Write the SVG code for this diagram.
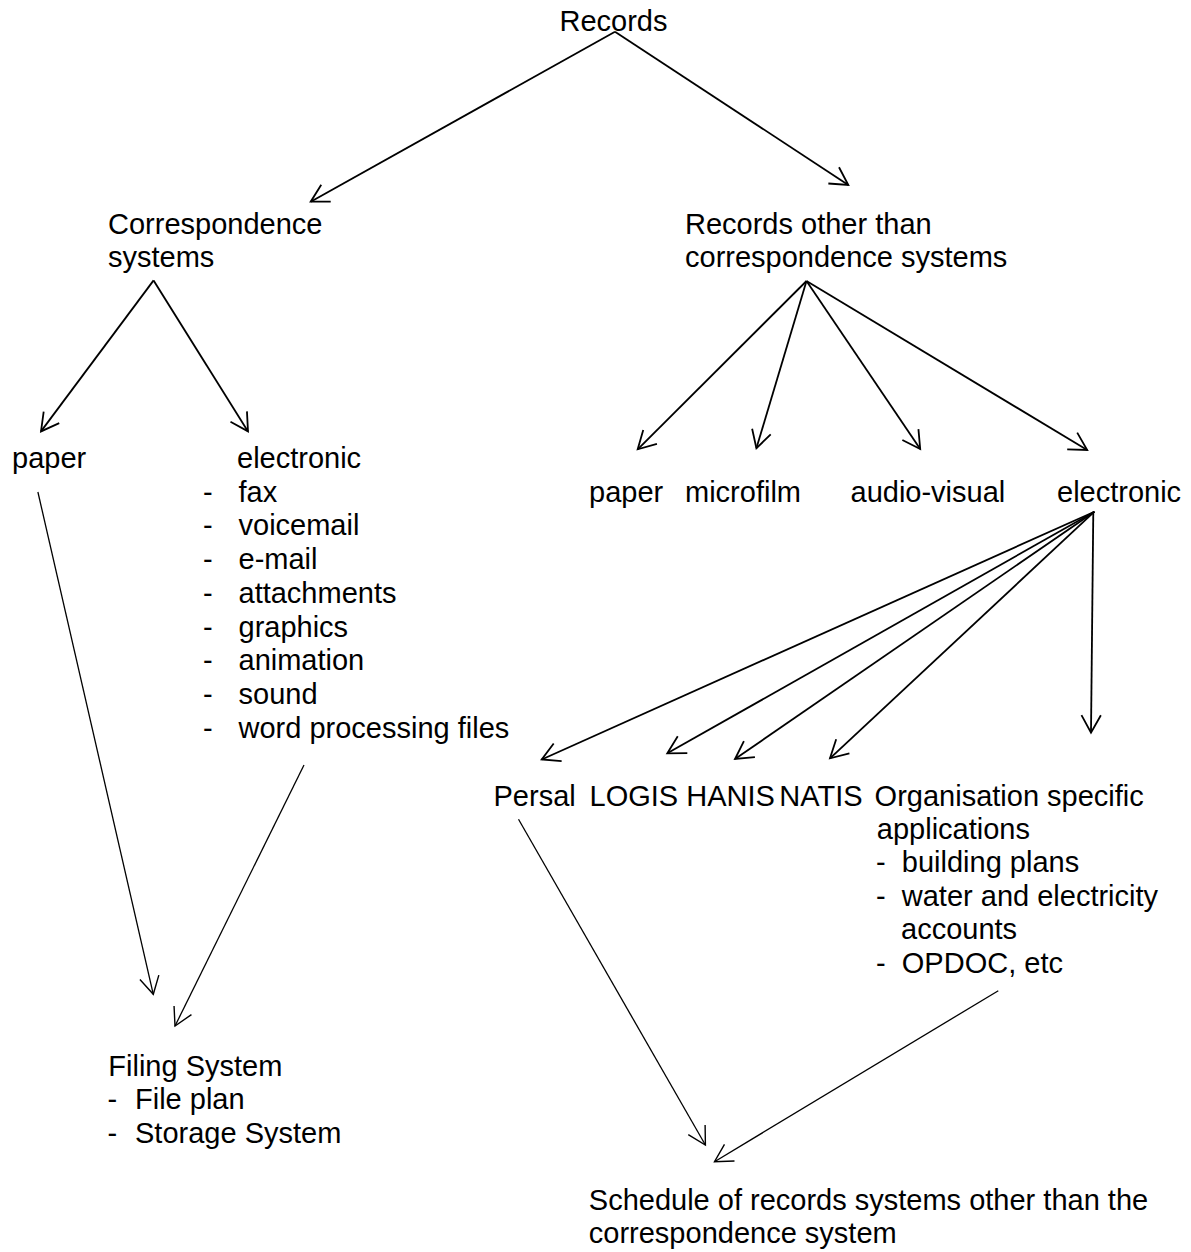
<svg xmlns="http://www.w3.org/2000/svg" width="1191" height="1252" viewBox="0 0 1191 1252">
<style>
text{font-family:"Liberation Sans",Arial,sans-serif;font-size:29px;fill:#000}
.c{stroke:#000;stroke-width:1.8;fill:none;marker-end:url(#ah)}
.t{stroke:#000;stroke-width:1.3;fill:none;marker-end:url(#ah2)}
</style>
<defs>
<marker id="ah" markerUnits="userSpaceOnUse" orient="auto" refX="0" refY="0" markerWidth="40" markerHeight="40" viewBox="-20 -20 40 40" overflow="visible">
<path d="M-17.5,-9.7 L0,0 L-17.5,9.7" fill="none" stroke="#000" stroke-width="1.8"/>
</marker>
<marker id="ah2" markerUnits="userSpaceOnUse" orient="auto" refX="0" refY="0" markerWidth="40" markerHeight="40" viewBox="-20 -20 40 40" overflow="visible">
<path d="M-17.5,-9.7 L0,0 L-17.5,9.7" fill="none" stroke="#000" stroke-width="1.4"/>
</marker>
</defs>
<rect width="1191" height="1252" fill="#fff"/>
<g id="connectors">
<line class="c" x1="615" y1="31.7" x2="310.7" y2="201.7"/>
<line class="c" x1="615" y1="31.7" x2="848.3" y2="185"/>
<line class="c" x1="153.6" y1="280.4" x2="41" y2="431.4"/>
<line class="c" x1="153.6" y1="280.4" x2="248" y2="431.4"/>
<line class="c" x1="806.5" y1="281" x2="637.7" y2="449.3"/>
<line class="c" x1="806.5" y1="281" x2="756.4" y2="448.3"/>
<line class="c" x1="806.5" y1="281" x2="920.2" y2="449"/>
<line class="c" x1="806.5" y1="281" x2="1087.2" y2="450"/>
<line class="c" x1="1094.4" y1="511.7" x2="541.7" y2="759.5"/>
<line class="c" x1="1094.4" y1="511.7" x2="667.3" y2="753.3"/>
<line class="c" x1="1094.4" y1="511.7" x2="735" y2="759"/>
<line class="c" x1="1094.4" y1="511.7" x2="830" y2="758.3"/>
<line class="c" x1="1093.3" y1="511.7" x2="1091" y2="732.7"/>
<line class="t" x1="37.9" y1="492" x2="153.3" y2="994.3"/>
<line class="t" x1="304" y1="765" x2="175" y2="1026"/>
<line class="t" x1="518.5" y1="819.3" x2="705.4" y2="1145"/>
<line class="t" x1="998.3" y1="990.7" x2="714.5" y2="1161.7"/>
</g>
<g id="records"><text x="559.5" y="30.5">Records</text></g>
<g id="correspondence-systems"><text x="108" y="234">Correspondence</text><text x="108" y="266.5">systems</text></g>
<g id="records-other"><text x="685" y="233.5">Records other than</text><text x="685" y="266.5">correspondence systems</text></g>
<g id="corr-paper"><text x="12" y="468">paper</text></g>
<g id="corr-electronic">
<text x="237" y="468">electronic</text>
<text x="203" y="501.7">-</text><text x="238.5" y="501.7">fax</text>
<text x="203" y="535.4">-</text><text x="238.5" y="535.4">voicemail</text>
<text x="203" y="569.1">-</text><text x="238.5" y="569.1">e-mail</text>
<text x="203" y="602.8">-</text><text x="238.5" y="602.8">attachments</text>
<text x="203" y="636.5">-</text><text x="238.5" y="636.5">graphics</text>
<text x="203" y="670.2">-</text><text x="238.5" y="670.2">animation</text>
<text x="203" y="703.9">-</text><text x="238.5" y="703.9">sound</text>
<text x="203" y="737.6">-</text><text x="238.5" y="737.6">word processing files</text>
</g>
<g id="other-paper"><text x="589" y="501.7">paper</text></g>
<g id="microfilm"><text x="685" y="501.7">microfilm</text></g>
<g id="audio-visual"><text x="850.5" y="501.7">audio-visual</text></g>
<g id="other-electronic"><text x="1057" y="501.7">electronic</text></g>
<g id="persal"><text x="493.5" y="805.5">Persal</text></g>
<g id="logis"><text x="589.5" y="805.5">LOGIS</text></g>
<g id="hanis"><text x="686.3" y="805.5">HANIS</text></g>
<g id="natis"><text x="779.3" y="805.5">NATIS</text></g>
<g id="organisation">
<text x="874.6" y="805.5">Organisation specific</text>
<text x="876.8" y="838.8">applications</text>
<text x="876" y="872">-</text><text x="901.8" y="872">building plans</text>
<text x="876" y="905.5">-</text><text x="901.8" y="905.5">water and electricity</text>
<text x="901" y="939">accounts</text>
<text x="876" y="972.5">-</text><text x="901.8" y="972.5">OPDOC, etc</text>
</g>
<g id="filing-system">
<text x="108.3" y="1076">Filing System</text>
<text x="107.5" y="1109.3">-</text><text x="135" y="1109.3">File plan</text>
<text x="107.5" y="1142.7">-</text><text x="135" y="1142.7">Storage System</text>
</g>
<g id="schedule">
<text x="588.8" y="1210">Schedule of records systems other than the</text>
<text x="588.8" y="1243">correspondence system</text>
</g>
</svg>
